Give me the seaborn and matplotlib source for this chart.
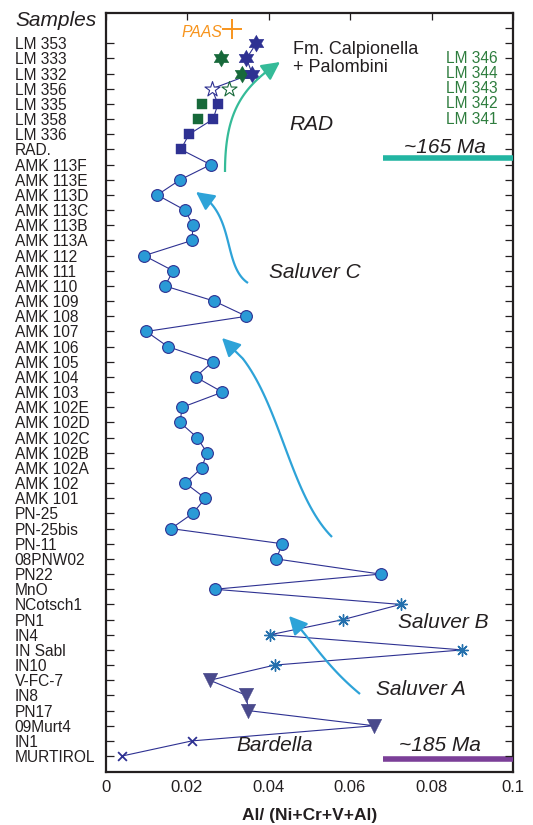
import numpy as np
import pandas as pd
import matplotlib
matplotlib.use("Agg")
import matplotlib.pyplot as plt
import seaborn as sns
from matplotlib.path import Path
from matplotlib.patches import FancyArrowPatch, PathPatch
import matplotlib.transforms as mtransforms

# ---------------- data ----------------
samples = ["LM 353", "LM 333", "LM 332", "LM 356", "LM 335", "LM 358", "LM 336", "RAD.",
           "AMK 113F", "AMK 113E", "AMK 113D", "AMK 113C", "AMK 113B", "AMK 113A",
           "AMK 112", "AMK 111", "AMK 110", "AMK 109", "AMK 108", "AMK 107", "AMK 106",
           "AMK 105", "AMK 104", "AMK 103", "AMK 102E", "AMK 102D", "AMK 102C",
           "AMK 102B", "AMK 102A", "AMK 102", "AMK 101", "PN-25", "PN-25bis", "PN-11",
           "08PNW02", "PN22", "MnO", "NCotsch1", "PN1", "IN4", "IN Sabl", "IN10",
           "V-FC-7", "IN8", "PN17", "09Murt4", "IN1", "MURTIROL"]
al_ratio = [0.0370, 0.0346, 0.0360, 0.0261, 0.0276, 0.0264, 0.0205, 0.0185,
            0.0258, 0.0183, 0.0127, 0.0195, 0.0215, 0.0212,
            0.0095, 0.0166, 0.0146, 0.0267, 0.0346, 0.0100, 0.0153,
            0.0263, 0.0221, 0.0287, 0.0188, 0.0183, 0.0225,
            0.0249, 0.0236, 0.0196, 0.0245, 0.0214, 0.0161, 0.0434,
            0.0419, 0.0675, 0.0268, 0.0724, 0.0583, 0.0404, 0.0876, 0.0415,
            0.0256, 0.0346, 0.0350, 0.0659, 0.0212, 0.0040]
marker_group = (["hexagram"] * 3 + ["open_star"] + ["square"] * 4 + ["circle"] * 29 +
                ["asterisk"] * 5 + ["triangle"] * 4 + ["cross"] * 2)

green_labels = ["LM 346", "LM 344", "LM 343", "LM 342", "LM 341"]
green_rows = [1, 2, 3, 4, 5]
green_ratio = [0.0283, 0.0334, 0.0303, 0.0237, 0.0228]
green_group = ["hexagram", "hexagram", "open_star", "square", "square"]

paas_ratio = 0.0310
x_ticks = [0, 0.02, 0.04, 0.06, 0.08, 0.1]
x_tick_labels = ["0", "0.02", "0.04", "0.06", "0.08", "0.1"]

df = pd.DataFrame({"sample": samples, "ratio": al_ratio,
                   "row": np.arange(len(samples)), "group": marker_group})
gdf = pd.DataFrame({"sample": green_labels, "ratio": green_ratio,
                    "row": green_rows, "group": green_group})

# ---------------- style ----------------
sns.set_theme(style="white")
plt.rcParams["font.family"] = ["Liberation Sans", "DejaVu Sans"]

NAVY = "#2e3192"
CIRC = "#2a9ad6"
GREEN = "#17693a"
AST = "#2470ad"
TRI = "#4a4a8c"
TEAL = "#22b5a2"
PURPLE = "#7b3f98"
ARROW_BLUE = "#2ea3d8"
ARROW_TEAL = "#35bb98"
ORANGE = "#f7941d"
SPINE = "#231f20"

W, H = 533, 825
fig = plt.figure(figsize=(W / 100, H / 100), dpi=100)
ax = fig.add_axes([105.5 / W, 1 - 772 / H, (513 - 105.5) / W, (772 - 13) / H])

# hexagram marker
ang = np.deg2rad(90 + 30 * np.arange(12))
rad = np.where(np.arange(12) % 2 == 0, 1.0, 1 / np.sqrt(3))
hexagram = list(zip(rad * np.cos(ang), rad * np.sin(ang)))

# connecting line
sns.lineplot(data=df, x="ratio", y="row", sort=False, estimator=None,
             color=NAVY, lw=0.8, ax=ax, zorder=2)

styles = {
    "hexagram": dict(marker=hexagram, s=150, color=NAVY, edgecolor=NAVY, linewidth=0.3),
    "open_star": dict(marker="*", s=130, facecolor="white", edgecolor=NAVY, linewidth=0.8),
    "square": dict(marker="s", s=52, color=NAVY, edgecolor=NAVY, linewidth=0.3),
    "circle": dict(marker="o", s=72, color=CIRC, edgecolor=NAVY, linewidth=0.8),
    "asterisk": dict(marker=(8, 2, 0), s=70, color=AST, linewidth=1.0),
    "triangle": dict(marker="v", s=110, color=TRI, edgecolor=TRI, linewidth=0.3),
    "cross": dict(marker="x", s=40, color=NAVY, linewidth=1.3),
}
for g, kw in styles.items():
    sub = df[df["group"] == g]
    sns.scatterplot(data=sub, x="ratio", y="row", ax=ax, zorder=3, legend=False, **kw)

gstyles = {
    "hexagram": dict(marker=hexagram, s=150, color=GREEN, edgecolor=GREEN, linewidth=0.3),
    "open_star": dict(marker="*", s=130, facecolor="white", edgecolor=GREEN, linewidth=0.8),
    "square": dict(marker="s", s=52, color=GREEN, edgecolor=GREEN, linewidth=0.3),
}
for g, kw in gstyles.items():
    sub = gdf[gdf["group"] == g]
    sns.scatterplot(data=sub, x="ratio", y="row", ax=ax, zorder=2.5, legend=False, **kw)

# PAAS
ax.scatter([paas_ratio], [-0.95], marker="+", s=200, color=ORANGE, linewidth=1.4, zorder=3)
ax.text(paas_ratio - 0.0023, -0.7, "PAAS", color=ORANGE, style="italic",
        fontsize=11.3, ha="right", va="center")

# axes
ax.set_xlim(0, 0.1)
ax.set_ylim(48.05, -2)
ax.set_xticks(x_ticks)
ax.set_xticklabels(x_tick_labels, fontsize=12)
ax.set_yticks(df["row"])
ax.set_yticklabels(samples, fontsize=11.2, ha="left")
ax.tick_params(axis="y", direction="in", length=6, width=0.9, pad=65.5,
               colors=SPINE, labelcolor="#231f20")
ax.tick_params(axis="x", direction="in", length=5, width=0.9, pad=6,
               top=True, colors=SPINE, labelcolor="#231f20")
ax.set_xlabel("Al/ (Ni+Cr+V+Al)", fontsize=12.5, fontweight="bold", labelpad=9, color="#231f20")
ax.set_ylabel("")
for sp in ax.spines.values():
    sp.set_visible(True)
    sp.set_linewidth(1.6)
    sp.set_color(SPINE)

ax2 = ax.twinx()
ax2.set_ylim(ax.get_ylim())
ax2.set_yticks(np.arange(-1, 48))
ax2.set_yticklabels([])
ax2.tick_params(axis="y", direction="in", length=6, width=0.9, colors=SPINE)
for sp in ax2.spines.values():
    sp.set_visible(False)
ax2.grid(False)
ax.grid(False)

# green labels on the right (inside)
trans = mtransforms.blended_transform_factory(ax.transAxes, ax.transData)
for lab, r in zip(green_labels, green_rows):
    ax.text(0.963, r, lab, transform=trans, ha="right", va="center",
            fontsize=11.2, color="#2e7d3e")

# header
fig.text(15 / W, 1 - 20 / H, "Samples", style="italic", fontsize=15,
         ha="left", va="center", color="#231f20")

# annotations
ax.text(0.0459, 1.0, "Fm. Calpionella\n+ Palombini", fontsize=13, ha="left",
        va="center", linespacing=1.1, color="#231f20")
ax.text(0.0451, 5.37, "RAD", fontsize=15, style="italic", ha="left", va="center", color="#231f20")
ax.text(0.0732, 6.86, "~165 Ma", fontsize=15, style="italic", ha="left", va="center", color="#231f20")
ax.text(0.0402, 15.1, "Saluver C", fontsize=15, style="italic", ha="left", va="center", color="#231f20")
ax.text(0.0717, 38.2, "Saluver B", fontsize=15, style="italic", ha="left", va="center", color="#231f20")
ax.text(0.0663, 42.6, "Saluver A", fontsize=15, style="italic", ha="left", va="center", color="#231f20")
ax.text(0.0322, 46.3, "Bardella", fontsize=15, style="italic", ha="left", va="center", color="#231f20")
ax.text(0.0720, 46.3, "~185 Ma", fontsize=15, style="italic", ha="left", va="center", color="#231f20")

ax.plot([0.068, 0.1], [7.58, 7.58], color=TEAL, lw=4, solid_capstyle="butt", clip_on=False, zorder=4)
ax.plot([0.068, 0.1], [47.2, 47.2], color=PURPLE, lw=4, solid_capstyle="butt", clip_on=False, zorder=4)


def fp(x, y):
    return (x / W, 1 - y / H)


def bez(p, t):
    p = np.asarray(p, dtype=float)
    return ((1 - t) ** 3 * p[0] + 3 * (1 - t) ** 2 * t * p[1]
            + 3 * (1 - t) * t ** 2 * p[2] + t ** 3 * p[3])


def curved_arrow(pts, color, t_head=0.86):
    # curve body up to t_head, then a straight arrowhead segment to the tip
    ts = np.linspace(0, t_head, 40)
    body = np.array([bez(pts, t) for t in ts])
    verts = [fp(*b) for b in body]
    fig.add_artist(PathPatch(Path(verts), fill=False, edgecolor=color, lw=1.6,
                             transform=fig.transFigure, zorder=5, capstyle="butt"))
    tip = bez(pts, 1.0)
    base = body[-1]
    head = FancyArrowPatch(fp(*base), fp(*tip),
                           arrowstyle="-|>,head_length=0.55,head_width=0.28",
                           mutation_scale=20, lw=1.6, color=color,
                           shrinkA=0, shrinkB=0,
                           transform=fig.transFigure, zorder=5)
    fig.add_artist(head)


curved_arrow([(225, 172), (225, 115), (240, 88), (280, 62)], ARROW_TEAL)
curved_arrow([(248, 283), (222, 266), (236, 212), (196, 192)], ARROW_BLUE)
curved_arrow([(332, 537), (285, 490), (278, 378), (222, 338)], ARROW_BLUE)
curved_arrow([(360, 694), (325, 665), (312, 640), (289, 616)], ARROW_BLUE)

fig.savefig("out.png", dpi=100)
